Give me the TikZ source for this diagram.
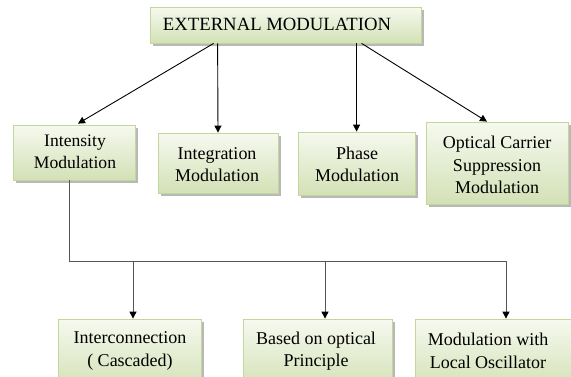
\documentclass[tikz,border=0pt]{standalone}
\usepackage{fontspec}
\setmainfont{Liberation Serif}
\usetikzlibrary{shadows,arrows.meta,calc}
\definecolor{boxtop}{HTML}{F6F9EF}
\definecolor{boxbot}{HTML}{D3E1B6}
\definecolor{boxline}{HTML}{C3D69B}
\definecolor{conn}{HTML}{555555}
\tikzset{
  box/.style={rectangle, draw=boxline, line width=0.8pt, top color=boxtop, bottom color=boxbot,
    drop shadow={shadow xshift=2.5pt, shadow yshift=-2.5pt, fill=gray!70, opacity=0.8},
    inner sep=0pt, align=center},
  lbl/.style={align=center, font=\fontsize{18}{22.5}\selectfont, inner sep=0pt},
  arr/.style={line width=0.9pt, -{Triangle[length=7pt,width=7pt]}},
  carr/.style={line width=0.9pt, draw=conn, -{Triangle[length=7pt,width=7pt,fill=black,color=black]}}
}
\begin{document}
\begin{tikzpicture}[x=1pt,y=-1pt]
\useasboundingbox (0,0) rectangle (571,376);
\clip (0,0) rectangle (571,376);
% top
\node[box, minimum width=271pt, minimum height=36pt] (top) at (285.5,25) {};
\node[lbl, font=\fontsize{18.7}{22}\selectfont] (toplbl) at (277,24) {EXTERNAL MODULATION};
% second row
\node[box, minimum width=122pt, minimum height=55pt] (inten) at (74,152.5) {};
\node[lbl, font=\fontsize{17.6}{21.5}\selectfont] (intenlbl) at (75,152) {Intensity\\Modulation};
\node[box, minimum width=120pt, minimum height=60pt] (integ) at (218,163) {};
\node[lbl] (integlbl) at (217,164.5) {Integration\\Modulation};
\node[box, minimum width=117pt, minimum height=63pt] (phase) at (356.5,163.5) {};
\node[lbl] (phaselbl) at (357,164.5) {Phase\\Modulation};
\node[box, minimum width=142pt, minimum height=82pt] (opt) at (497,163) {};
\node[lbl] (optlbl) at (497,165) {Optical Carrier\\Suppression\\Modulation};
% bottom row
\node[box, minimum width=143pt, minimum height=70pt] (inter) at (129.5,354) {};
\node[lbl] (interlbl) at (130,351) {Interconnection\\( Cascaded)};
\node[box, minimum width=149pt, minimum height=70pt] (based) at (317.5,354) {};
\node[lbl] (basedlbl) at (316,351) {Based on optical\\Principle};
\node[box, minimum width=165pt, minimum height=70pt] (local) at (497.5,354) {};
\node[lbl] (locallbl) at (488,351) {Modulation with\\Local Oscillator};
% top arrows
\coordinate (s1) at ($(top.south west)+(64,0)$);
\coordinate (s2) at ($(top.south west)+(68,0)$);
\coordinate (s3) at ($(top.south west)+(207,0)$);
\coordinate (s4) at ($(top.south west)+(212,0)$);
\draw[arr] (s1) -- ($(inten.north)+(4,-1)$);
\draw[arr] (s2) -- (integ.north);
\draw[arr] (s3) -- (phase.north -| s3);
\draw[arr] (s4) -- ($(opt.north)+(-10,0)$);
% bottom connectors
\coordinate (b0) at ($(inten.south)+(-5,0)$);
\coordinate (bus) at (69,261);
\coordinate (bend) at (506,261);
\draw[line width=0.9pt, draw=conn] (b0) -- (b0 |- bus) -- (bend);
\draw[carr] (133,261) -- (inter.north -| 133,0);
\draw[carr] (325,261) -- (based.north -| 325,0);
\draw[carr] (bend) -- (local.north -| bend);
\end{tikzpicture}
\end{document}
